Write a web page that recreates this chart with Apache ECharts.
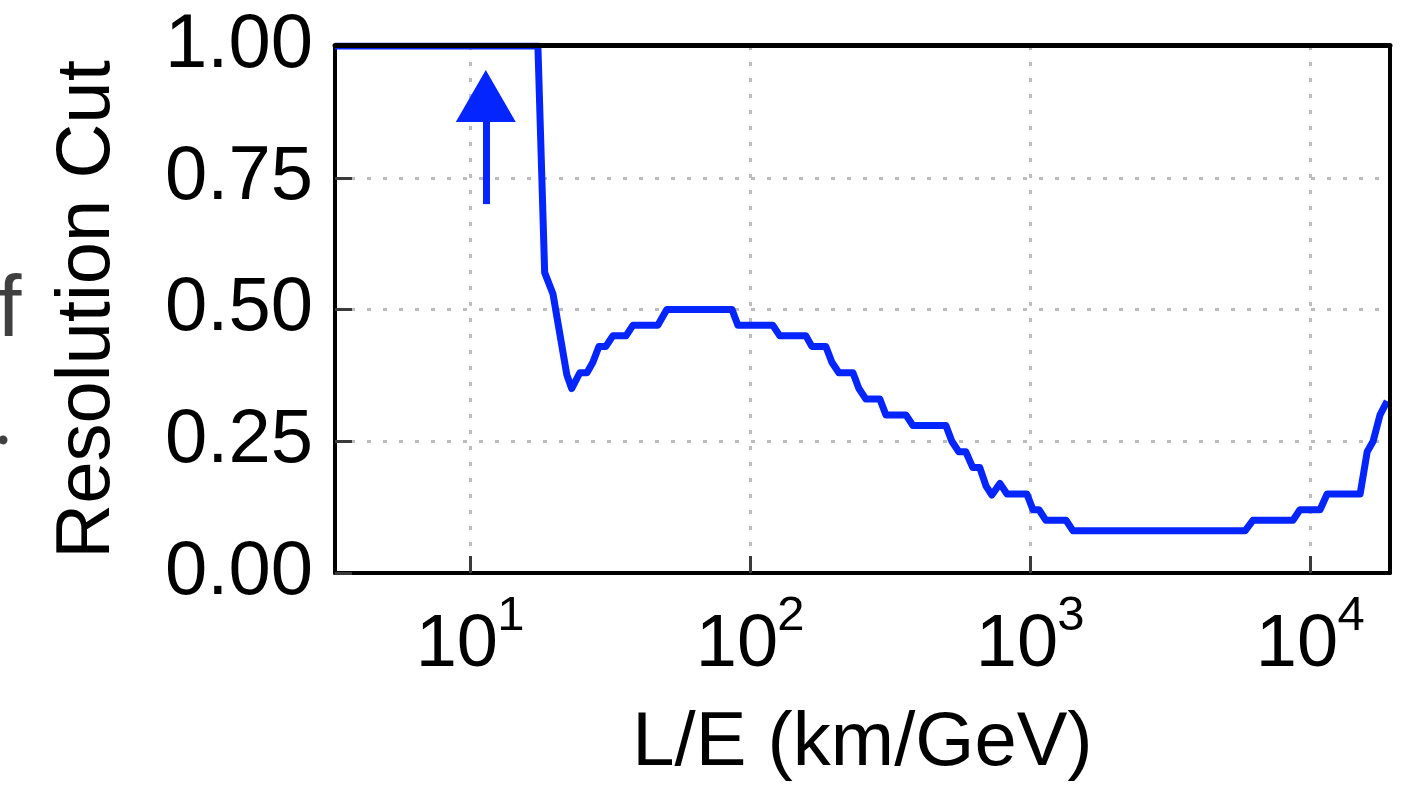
<!DOCTYPE html>
<html>
<head>
<meta charset="utf-8">
<script src="https://cdn.jsdelivr.net/npm/echarts@6/dist/echarts.min.js"></script>
<style>
  html, body { margin: 0; padding: 0; background: #ffffff; }
  #chart { width: 1412px; height: 792px; }
</style>
</head>
<body>
<div id="chart"></div>
<script>
// L/E values (km/GeV)
const lengthOverEnergy = [
  3.3, 17.5, 18.5, 19.8, 22.2, 23.1, 24.7, 26.2, 27.5, 28.9,
  30.6, 32.4, 36.1, 38.2, 46.9, 50.5, 86.3, 90.6, 120.8, 127.9,
  158.5, 166.4, 186.7, 196.2, 207.8, 233.3, 245, 259.5, 291, 306,
  360.6, 382, 501, 526, 557, 590, 625, 662, 697, 731,
  781, 828, 975, 1025, 1077, 1140, 1345, 1425, 5860, 6255,
  8690, 9205, 10860, 11510, 15100, 16000, 16800, 17780, 18850
]
const resolutionCut = [
  1.00, 1.00, 0.57, 0.53, 0.376, 0.35, 0.38, 0.38, 0.40, 0.43,
  0.43, 0.45, 0.45, 0.47, 0.47, 0.50, 0.50, 0.47, 0.47, 0.45,
  0.45, 0.43, 0.43, 0.40, 0.38, 0.38, 0.35, 0.33, 0.33, 0.30,
  0.30, 0.28, 0.28, 0.25, 0.23, 0.23, 0.20, 0.20, 0.165, 0.148,
  0.17, 0.15, 0.15, 0.12, 0.12, 0.10, 0.10, 0.08, 0.08, 0.10,
  0.10, 0.12, 0.12, 0.15, 0.15, 0.23, 0.25, 0.30, 0.326
]
const xRange = [3.3, 19300]
const xDecades = [1, 2, 3, 4]
const yTicks = [0, 0.25, 0.5, 0.75, 1]
// upward arrow annotation: x position, shaft start, head centre
const arrowX = 11.4
const arrowFrom = 0.70
const arrowTo = 0.905

const font = 'Liberation Sans, Arial, Helvetica, sans-serif'
const blue = '#0525ff'
const tickGray = '#3a3a3a'

const decadeExponent = (value) => {
  const lg = Math.log10(value)
  const exp = Math.round(lg)
  if (Math.abs(lg - exp) > 1e-6 || !xDecades.includes(exp)) return null
  return exp
}

const chart = echarts.init(document.getElementById('chart'))

// hidden helper axes share the grid; they only carry the frame or the exponents
const plainAxis = (extra) => Object.assign({
  type: 'log',
  min: xRange[0],
  max: xRange[1],
  axisLine: { show: false },
  axisTick: { show: false },
  axisLabel: { show: false },
  splitLine: { show: false },
}, extra)

const option = {
  backgroundColor: '#ffffff',
  animation: false,
  textStyle: { fontFamily: font },
  grid: {
    left: 335,
    right: 22,
    top: 46,
    bottom: 219,
    outerBoundsMode: 'none',
  },
  xAxis: [
    {
      type: 'log',
      position: 'bottom',
      min: xRange[0],
      max: xRange[1],
      name: 'L/E (km/GeV)',
      nameLocation: 'middle',
      nameGap: 133,
      nameTextStyle: { fontSize: 76, color: '#000', fontFamily: font },
      axisLine: { show: true, lineStyle: { color: '#000', width: 4 } },
      axisTick: { show: true, inside: true, length: 17, lineStyle: { color: tickGray, width: 3 } },
      minorTick: { show: false },
      splitLine: {
        show: true,
        lineStyle: { color: '#bdbdbd', width: 3, type: [4, 12] },
      },
      axisLabel: {
        margin: 36,
        fontSize: 74,
        color: '#000',
        fontFamily: font,
        padding: [0, 26, 0, 0],
        showMinLabel: false,
        showMaxLabel: false,
        formatter: (value) => (decadeExponent(value) === null ? '' : '10'),
      },
    },
    plainAxis({
      position: 'bottom',
      axisLabel: {
        show: true,
        margin: 19,
        fontSize: 49,
        color: '#000',
        fontFamily: font,
        padding: [0, 0, 0, 82],
        showMinLabel: false,
        showMaxLabel: false,
        formatter: (value) => {
          const exp = decadeExponent(value)
          return exp === null ? '' : String(exp)
        },
      },
    }),
    plainAxis({
      position: 'top',
      offset: 1,
      zlevel: 1,
      z: 10,
      axisLine: { show: true, lineStyle: { color: '#000', width: 5 } },
    }),
  ],
  yAxis: [
    {
      type: 'value',
      min: yTicks[0],
      max: yTicks[yTicks.length - 1],
      interval: 0.25,
      name: 'Resolution Cut',
      nameLocation: 'middle',
      nameGap: 209,
      nameTextStyle: { fontSize: 76, color: '#000', fontFamily: font },
      axisLine: { show: true, lineStyle: { color: '#000', width: 4 } },
      axisTick: { show: true, inside: true, length: 17, lineStyle: { color: tickGray, width: 3 } },
      splitLine: {
        show: true,
        lineStyle: { color: '#bdbdbd', width: 3, type: [4, 12] },
      },
      axisLabel: {
        margin: 22,
        fontSize: 76,
        color: '#000',
        fontFamily: font,
        formatter: (v) => v.toFixed(2),
      },
    },
    {
      type: 'value',
      position: 'right',
      min: 0,
      max: 1,
      zlevel: 1,
      z: 10,
      axisLine: { show: true, lineStyle: { color: '#000', width: 4 } },
      axisTick: { show: false },
      axisLabel: { show: false },
      splitLine: { show: false },
    },
  ],
  series: [
    {
      type: 'line',
      xAxisIndex: 0,
      yAxisIndex: 0,
      data: lengthOverEnergy.map((x, i) => [x, resolutionCut[i]]),
      symbol: 'none',
      lineStyle: { color: blue, width: 7, join: 'round' },
      z: 5,
      markLine: {
        silent: true,
        symbol: ['none', 'triangle'],
        symbolSize: [60, 52],
        label: { show: false },
        lineStyle: { color: blue, width: 7, type: 'solid' },
        itemStyle: { color: blue },
        data: [
          [
            { coord: [arrowX, arrowFrom] },
            { coord: [arrowX, arrowTo] },
          ],
        ],
      },
    },
  ],
  graphic: [
    {
      type: 'text',
      x: -3,
      y: 312,
      style: {
        text: 'f',
        font: '88px ' + font,
        fill: '#404040',
        verticalAlign: 'middle',
      },
    },
    {
      type: 'circle',
      shape: { cx: 3, cy: 440, r: 4.5 },
      style: { fill: '#404040' },
    },
  ],
}

chart.setOption(option)
</script>
</body>
</html>
